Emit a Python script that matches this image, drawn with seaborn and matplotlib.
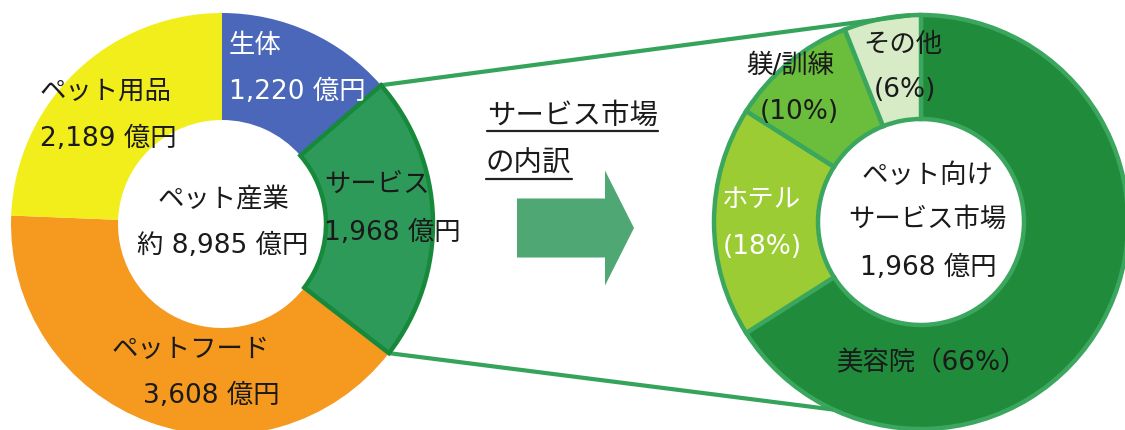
import numpy as np
import matplotlib
matplotlib.use("Agg")
import matplotlib.pyplot as plt
from matplotlib.patches import FancyArrow
import seaborn as sns

# Pet industry total and its breakdown (億円)
industry_labels = ["生体", "サービス", "ペットフード", "ペット用品"]
industry_values = [1220, 1968, 3608, 2189]
industry_colors = ["#4b67b9", "#2e9a5a", "#f5991f", "#f2ee1c"]

# Breakdown of the pet service market (%)
service_labels = ["美容院", "ホテル", "躾/訓練", "その他"]
service_shares = [66, 18, 10, 6]
service_colors = ["#1f8b3b", "#9ccc34", "#6bbd3c", "#d7ebc6"]

industry_total_text = "約 8,985 億円"
service_total = 1968

sns.set_theme(style="white")
# Latin digits from DejaVu Sans, Japanese glyphs from Noto Sans CJK JP
plt.rcParams["font.family"] = ["DejaVu Sans", "Noto Sans CJK JP"]

W, H = 1125, 430
fig = plt.figure(figsize=(W / 100, H / 100), dpi=100)
ax = fig.add_axes([0, 0, 1, 1])


def Y(y):
    """Top-down pixel row -> axis y."""
    return H - y


def rim_point(center, radius, deg_cw_from_top):
    a = np.deg2rad(deg_cw_from_top)
    return center[0] + radius * np.sin(a), center[1] + radius * np.cos(a)


# ---- left donut: pet industry ----
lc, lR, lr = (222, Y(224)), 211, 104
lw, _ = ax.pie(industry_values, colors=industry_colors, startangle=90,
               counterclock=False, center=lc, radius=lR,
               wedgeprops=dict(width=lR - lr, linewidth=0))
svc = lw[1]
svc.set_edgecolor("#17893b")
svc.set_linewidth(3.2)
svc.set_zorder(3)

# ---- right donut: service market ----
rc, rR, rr = (921, Y(222)), 207, 103
rw, _ = ax.pie(service_shares, colors=service_colors, startangle=90,
               counterclock=False, center=rc, radius=rR,
               wedgeprops=dict(width=rR - rr, edgecolor="#3ba65d", linewidth=3.2))

ax.set_xlim(0, W)
ax.set_ylim(0, H)
ax.set_aspect("equal")
ax.axis("off")

# ---- connector lines from the service wedge to the right donut ----
cum = np.cumsum([0] + industry_values) / sum(industry_values) * 360
p1 = rim_point(lc, lR, cum[1])
p2 = rim_point(lc, lR, cum[2])
q1 = rim_point(rc, rR, -3)
q2 = rim_point(rc, rR, 205)
line_kw = dict(color="#35a35a", lw=3, solid_capstyle="butt", zorder=1)
ax.plot([p1[0], q1[0]], [p1[1], q1[1]], **line_kw)
ax.plot([p2[0], q2[0]], [p2[1], q2[1]], **line_kw)

# ---- arrow ----
ax.add_patch(FancyArrow(517, Y(228), 117, 0, width=59, head_width=115,
                        head_length=29, length_includes_head=True,
                        color="#4fa873", linewidth=0))

fs = 19
dark = "#1a1a1a"

# ---- left donut labels ----
ax.text(229, Y(46), industry_labels[0], color="white", fontsize=fs, ha="left", va="center")
ax.text(229, Y(92), f"{industry_values[0]:,} 億円", color="white", fontsize=fs, ha="left", va="center")
ax.text(40, Y(92), industry_labels[3], color=dark, fontsize=fs, ha="left", va="center")
ax.text(40, Y(139), f"{industry_values[3]:,} 億円", color=dark, fontsize=fs, ha="left", va="center")
ax.text(324, Y(185), industry_labels[1], color=dark, fontsize=fs, ha="left", va="center")
ax.text(324, Y(233), f"{industry_values[1]:,} 億円", color=dark, fontsize=fs, ha="left", va="center")
ax.text(191, Y(350), industry_labels[2], color=dark, fontsize=fs, ha="center", va="center")
ax.text(211, Y(396), f"{industry_values[2]:,} 億円", color=dark, fontsize=fs, ha="center", va="center")
ax.text(223, Y(200), "ペット産業", color=dark, fontsize=fs, ha="center", va="center")
ax.text(223, Y(246), industry_total_text, color=dark, fontsize=fs, ha="center", va="center")

# ---- middle caption, underlined ----
cap1 = ax.text(487, Y(116), "サービス市場", color=dark, fontsize=20.5, ha="left", va="center")
cap2 = ax.text(486, Y(164), "の内訳", color=dark, fontsize=20.5, ha="left", va="center")
fig.canvas.draw()
inv = ax.transData.inverted()
for t in (cap1, cap2):
    bb = t.get_window_extent()
    (x0, y0), (x1, _) = inv.transform([(bb.x0, bb.y0), (bb.x1, bb.y1)])
    ax.plot([x0, x1], [y0 - 1, y0 - 1], color="#222222", lw=1.6, zorder=4)

# ---- right donut labels ----
ax.text(903, Y(45), service_labels[3], color=dark, fontsize=fs, ha="center", va="center")
ax.text(905, Y(90), f"({service_shares[3]}%)", color=dark, fontsize=fs, ha="center", va="center")
ax.text(790, Y(66), service_labels[2], color=dark, fontsize=fs, ha="center", va="center")
ax.text(799, Y(112), f"({service_shares[2]}%)", color=dark, fontsize=fs, ha="center", va="center")
ax.text(761, Y(200), service_labels[1], color="white", fontsize=fs, ha="center", va="center")
ax.text(762, Y(247), f"({service_shares[1]}%)", color="white", fontsize=fs, ha="center", va="center")
ax.text(931, Y(363), f"{service_labels[0]}（{service_shares[0]}%）", color=dark, fontsize=fs,
        ha="center", va="center")
ax.text(927, Y(176), "ペット向け", color=dark, fontsize=fs, ha="center", va="center")
ax.text(927, Y(220), "サービス市場", color=dark, fontsize=fs, ha="center", va="center")
ax.text(928, Y(268), f"{service_total:,} 億円", color=dark, fontsize=fs, ha="center", va="center")

fig.savefig("out.png", dpi=100, facecolor="white")
